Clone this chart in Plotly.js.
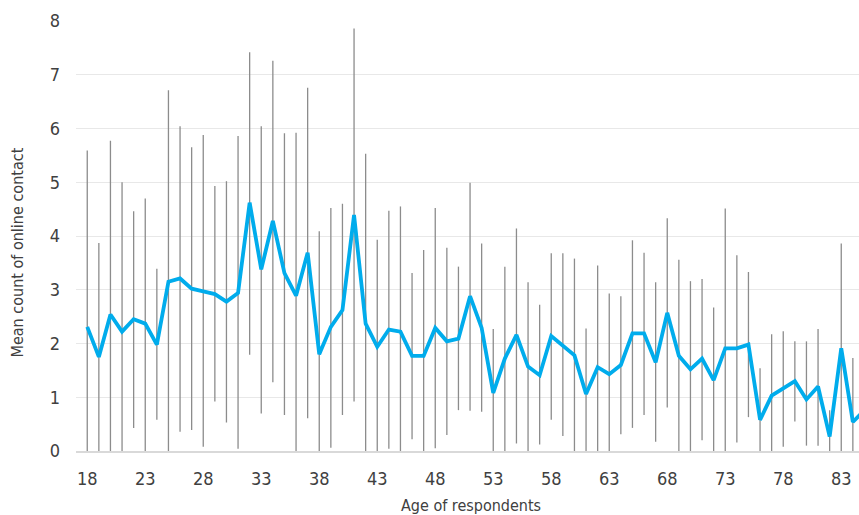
<!DOCTYPE html>
<html>
<head>
<meta charset="utf-8">
<script src="https://cdn.plot.ly/plotly-3.0.1.min.js"></script>
<style>
  html, body { margin: 0; padding: 0; background: #ffffff; }
  #chart { width: 859px; height: 515px; }
</style>
</head>
<body>
<div id="chart"></div>
<script>
// Age of respondents
const ages = [18,19,20,21,22,23,24,25,26,27,28,29,30,31,32,33,34,35,36,37,38,39,40,41,42,43,44,45,46,47,48,49,50,51,
  52,53,54,55,56,57,58,59,60,61,62,63,64,65,66,67,68,69,70,71,72,73,74,75,76,77,78,79,80,81,82,83,84,85];

// Mean count of online contact
const meanCount = [2.31,1.75,2.54,2.22,2.45,2.37,1.98,3.15,3.21,3.02,2.97,2.92,2.78,2.94,4.62,3.38,4.28,3.31,2.89,3.69,
  1.80,2.31,2.62,4.39,2.37,1.94,2.26,2.22,1.77,1.77,2.29,2.04,2.09,2.88,2.29,1.08,1.72,2.16,1.57,1.41,
  2.14,1.97,1.78,1.06,1.56,1.43,1.60,2.19,2.19,1.65,2.57,1.77,1.52,1.72,1.32,1.91,1.91,1.98,0.58,1.03,
  1.17,1.30,0.96,1.20,0.27,1.91,0.54,0.76];

// Upper end of the error bar
const upperBound = [5.59,3.87,5.77,5.00,4.46,4.70,3.39,6.71,6.04,5.65,5.88,4.93,5.02,5.86,7.42,6.04,7.26,5.91,5.92,6.76,
  4.09,4.52,4.60,7.86,5.53,3.93,4.47,4.55,3.31,3.74,4.52,3.78,3.43,4.99,3.86,2.27,3.43,4.14,3.14,2.72,
  3.68,3.68,3.58,2.28,3.45,2.93,2.88,3.92,3.69,3.14,4.33,3.56,3.16,3.20,2.67,4.51,3.64,3.33,1.54,2.17,
  2.23,2.04,2.04,2.27,0.76,3.86,1.73,1.90];

// Lower end of the error bar (cut off at zero)
const lowerBound = [0,0,0,0,0.43,0,0.58,0,0.36,0.39,0.08,0.92,0.53,0.04,1.79,0.70,1.28,0.67,0,0.61,
  0,0.06,0.67,0.92,0,0,0.04,0,0.22,0,0.05,0.30,0.76,0.75,0.73,0,0,0.14,0,0.12,
  0.58,0.28,0,0,0,0,0.31,0.43,0.67,0.17,0.81,0,0,0.20,0,0,0.16,0.63,0,0,
  0.08,0.55,0.10,0.10,0,0,0,0];

const xTickVals = [18,23,28,33,38,43,48,53,58,63,68,73,78,83];
const yTickVals = [0,1,2,3,4,5,6,7,8];
const xTitle = 'Age of respondents';
const yTitle = 'Mean count of online contact';

const errPlus = upperBound.map((u, i) => Math.max(0, u - meanCount[i]));
const errMinus = lowerBound.map((l, i) => Math.max(0, meanCount[i] - l));

const fontFam = '"Liberation Sans Narrow", "DejaVu Sans Condensed", "Liberation Sans", sans-serif';

const traces = [
  {
    x: ages, y: meanCount, type: 'scatter', mode: 'markers',
    marker: { size: 1, opacity: 0 },
    error_y: { type: 'data', symmetric: false, array: errPlus, arrayminus: errMinus,
               color: '#8c8c8c', thickness: 1.3, width: 0 },
    hoverinfo: 'skip', showlegend: false
  },
  {
    x: ages, y: meanCount, type: 'scatter', mode: 'lines',
    line: { color: '#00acec', width: 3.8 },
    showlegend: false
  }
];

const layout = {
  width: 859, height: 515,
  margin: { l: 76, r: 0, t: 21, b: 64 },
  paper_bgcolor: '#ffffff', plot_bgcolor: '#ffffff',
  font: { family: fontFam, color: '#404040' },
  xaxis: {
    range: [17.03, 84.53],
    tickvals: xTickVals, ticktext: xTickVals.map(String),
    showgrid: false, zeroline: false,
    showline: true, linecolor: '#d9d9d9', linewidth: 1.5,
    ticks: '', ticklabelstandoff: 11,
    tickfont: { size: 18, color: '#404040', family: fontFam },
    automargin: false
  },
  yaxis: {
    range: [0, 8],
    tickvals: yTickVals, ticktext: yTickVals.map(String),
    showgrid: true, gridcolor: '#e8e8e8', gridwidth: 1,
    zeroline: false, showline: false,
    ticks: '', ticklabelstandoff: 15,
    tickfont: { size: 18, color: '#404040', family: fontFam },
    automargin: false
  },
  annotations: [
    { text: xTitle, xref: 'paper', yref: 'paper', x: 0.505, y: -0.1268,
      xanchor: 'center', yanchor: 'middle', showarrow: false,
      font: { size: 16, color: '#404040', family: fontFam } },
    { text: yTitle, xref: 'paper', yref: 'paper', x: -0.0741, y: 0.4616,
      xanchor: 'center', yanchor: 'middle', textangle: -90, showarrow: false,
      font: { size: 16, color: '#404040', family: fontFam } }
  ],
  showlegend: false
};

Plotly.newPlot('chart', traces, layout, { displayModeBar: false, staticPlot: true });
</script>
</body>
</html>
